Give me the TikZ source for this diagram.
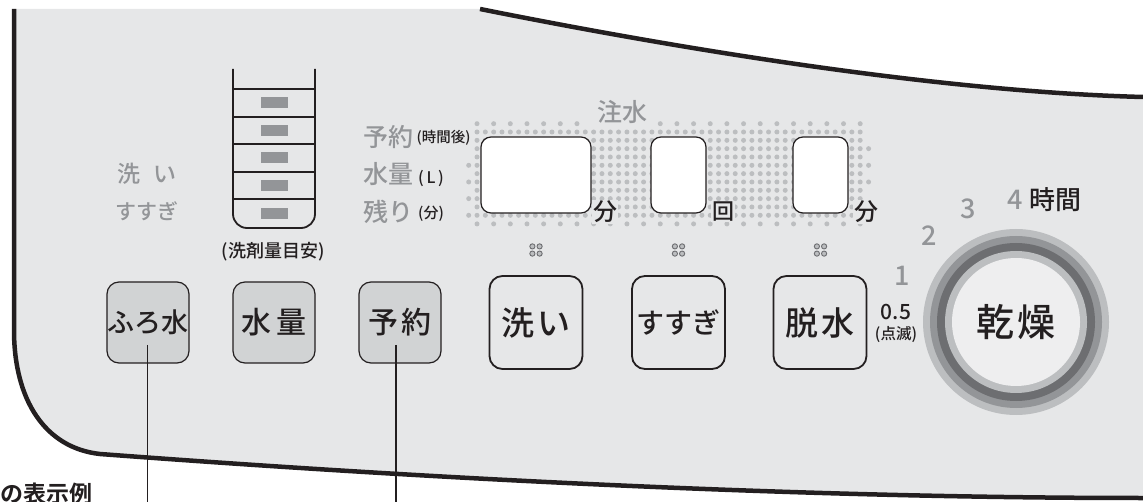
\documentclass[tikz,border=0pt]{standalone}
\usepackage{fontspec}
\setmainfont{Noto Sans CJK JP}[UprightFont = * Medium, BoldFont = * Bold]
\usetikzlibrary{calc}
\definecolor{panel}{HTML}{E6E7E8}
\definecolor{ink}{HTML}{231F20}
\definecolor{txtgray}{HTML}{939598}
\definecolor{btngray}{HTML}{D1D3D4}
\definecolor{dotgray}{HTML}{BCBEC0}
\definecolor{ringlight}{HTML}{BCBEC0}
\definecolor{ringmid}{HTML}{939598}
\definecolor{ringdark}{HTML}{6D6E71}
\definecolor{dialin}{HTML}{EEEEEF}
\begin{document}
\begin{tikzpicture}[x=1pt,y=-1pt,
  border/.style={draw=ink, line width=4.5pt},
  btn/.style={draw=ink, line width=1.2pt, rounded corners=12pt, minimum width=82pt, minimum height=81pt, inner sep=0pt, fill=btngray, text=ink},
  wbtn/.style={draw=ink, line width=1.8pt, rounded corners=13pt, minimum width=93pt, minimum height=93pt, inner sep=0pt, text=ink},
  win/.style={draw=ink, line width=1.2pt, rounded corners=10pt, fill=white, inner sep=0pt, minimum height=76pt},
  gl/.style={text=txtgray, inner sep=0pt, font=\fontsize{25}{25}\selectfont},
  bl/.style={text=ink, inner sep=0pt},
  unit/.style={text=ink, inner sep=0.6pt, fill=panel, font=\fontsize{24}{24}\selectfont},
  conn/.style={draw=ink, line width=1.8pt},
  mini/.style={draw=ringdark, fill=dotgray, line width=0.9pt},
]
\useasboundingbox (0,0) rectangle (1143,502);
% panel
\fill[panel] (14,9) -- (480,9) .. controls (700,53) and (950,92) .. (1143,97) -- (1143,498) .. controls (850,498) and (500,484) .. (100,454) .. controls (45,448) and (14,400) .. (14,330) -- cycle;
\draw[border] (14,9) -- (14,330) .. controls (14,400) and (45,448) .. (100,454) .. controls (500,484) and (850,498) .. (1143,498);
\draw[border] (480,9) .. controls (700,53) and (950,92) .. (1143,97);

% detergent ladder
\draw[ink, line width=1.8pt, rounded corners=14pt] (233,69) -- (233,228) -- (315,228) -- (315,69);
\foreach \yy in {89,117,144,172,199} \draw[ink, line width=1.5pt] (233,\yy) -- (315,\yy);
\foreach \yy in {103,130.5,158,185.5,213.5} \fill[txtgray] (260.5,{\yy-5.5}) rectangle (287.5,{\yy+5.5});
\node[bl, font=\fontsize{18}{18}\selectfont] (det) at (273,252) {(洗剤量目安)};

% left labels
\node[gl, font=\fontsize{23}{23}\selectfont] (lwash) at (147,174) {洗\hspace{13pt}い};
\node[gl, font=\fontsize{21}{21}\selectfont] (lrinse) at (147,211.5) {すすぎ};

% dot matrix
\foreach \i in {0,...,46} \foreach \j in {0,...,10} \fill[dotgray] ({477+8.33*\i},{132+8.33*\j}) circle (2.5pt);
\foreach \k in {0,...,6,11,12,...,23} \fill[dotgray] ({477+16.66*\k},123.7) circle (2.5pt);
\foreach \k in {0,...,23} \fill[dotgray] ({477+16.66*\k},223.9) circle (2.5pt);
\foreach \j in {4,6,8,10} \fill[dotgray] (468.7,{132+8.33*\j}) circle (2.5pt);
\foreach \j in {2,4,6} \fill[dotgray] (868.6,{132+8.33*\j}) circle (2.5pt);

% windows
\node[win, minimum width=110pt] (w1) at (536,175) {};
\node[win, minimum width=55pt] (w2) at (678.5,175) {};
\node[win, minimum width=55pt] (w3) at (820.5,175) {};
\node[unit] (u1) at (605,212) {分};
\node[unit, font=\fontsize{22}{22}\selectfont] (u2) at (723,212) {回};
\node[unit] (u3) at (866,212) {分};
\node[gl] (chusui) at (622,112) {注水};

% display labels
\node[gl] (l1) at (388,137.5) {予約};
\node[bl, font=\fontsize{14.5}{15}\selectfont] (l1s) at (443.5,138) {(時間後)};
\node[gl] (l2) at (388,174) {水量};
\node[bl, font=\fontsize{16}{16}\selectfont] (l2s) at (431,178) {(\,L\,)};
\node[gl] (l3) at (388,212) {残り};
\node[bl, font=\fontsize{15}{15}\selectfont] (l3s) at (431,214) {(分)};

% mini indicators
\foreach \cx in {536,678.5,820.5} {
  \foreach \dx in {-3.6,3.6} \foreach \dy in {-3.6,3.6}
    \filldraw[mini] ({\cx+\dx},{250+\dy}) circle (2.6pt);
}

% buttons
\node[btn, font=\fontsize{27}{27}\selectfont] (furo) at (148,322.5) {ふろ水};
\node[btn, font=\fontsize{30}{30}\selectfont] (suiryo) at (274,322.5) {水\hspace{5pt}量};
\node[btn, font=\fontsize{30}{30}\selectfont] (yoyaku) at (400,322.5) {予\hspace{3pt}約};
\node[wbtn, font=\fontsize{33}{33}\selectfont] (arai) at (536,322.5) {洗\hspace{3pt}い};
\node[wbtn, font=\fontsize{28}{28}\selectfont] (susugi) at (678.5,322.5) {すすぎ};
\node[wbtn, font=\fontsize{33}{33}\selectfont] (dassui) at (820,322.5) {脱\hspace{3pt}水};

% dial
\coordinate (dc) at (1016,322);
\fill[ringlight] (dc) circle (93pt);
\fill[ringmid] (dc) circle (86pt);
\fill[ringdark] (dc) circle (79pt);
\fill[ringlight] (dc) circle (71pt);
\node[circle, fill=dialin, minimum size=128pt, inner sep=0pt, text=ink, font=\fontsize{38}{38}\selectfont] (kanso) at (dc) {乾\hspace{3pt}燥};

% dial scale
\node[gl, font=\fontsize{27}{27}\selectfont] (n1) at (902,276) {1};
\node[gl, font=\fontsize{27}{27}\selectfont] (n2) at (929,236) {2};
\node[gl, font=\fontsize{27}{27}\selectfont] (n3) at (968,209) {3};
\node[gl, font=\fontsize{27}{27}\selectfont] (n4) at (1015,200) {4};
\node[bl, font=\fontsize{26}{26}\selectfont] (jikan) at (1055,200) {時間};
\node[bl, font=\fontsize{21}{21}\selectfont] (n05) at (896,312) {0.5};
\node[bl, font=\fontsize{15.5}{16}\selectfont] (tenmetsu) at (896,335) {(点滅)};

% connectors
\coordinate (c1a) at (147.5,345);
\coordinate (c1b) at (147.5,503);
\coordinate (c2a) at (396,345);
\coordinate (c2b) at (396,503);
\draw[conn] (c1a) -- (c1b);
\draw[conn] (c2a) -- (c2b);

% caption fragment
\node[bl, anchor=west, font=\bfseries\fontsize{23}{23}\selectfont] (cap) at (0,494) {の表示例};
\end{tikzpicture}
\end{document}
